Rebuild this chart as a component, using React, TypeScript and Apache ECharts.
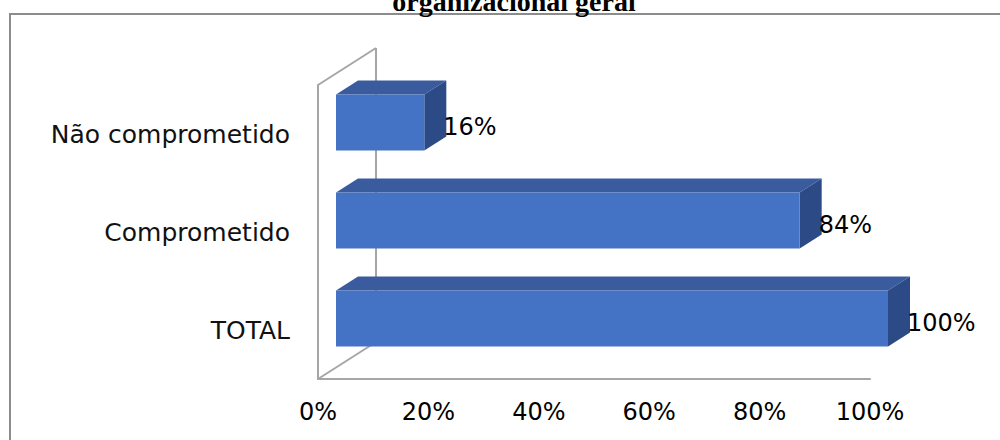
import React, { useEffect, useRef } from "react";
import * as echarts from "echarts";

const categories = ["TOTAL", "Comprometido", "Não comprometido"];
const values = [100, 84, 16];
const xMin = 0;
const xMax = 100;
const xInterval = 20;
const titleText = "organizacional geral";

export default function App() {
  const ref = useRef<HTMLDivElement>(null);
  useEffect(() => {
    if (!ref.current) return;
    const chart = echarts.init(ref.current, null, { renderer: "svg" });
    const wallColor = "#a6a6a6";
    const depthX = 58;
    const depthY = -37;
    const option: any = {
      animation: false,
      backgroundColor: "#ffffff",
      grid: { left: 318, top: 85, width: 552, height: 294, containLabel: false },
      xAxis: {
        type: "value",
        min: xMin,
        max: xMax,
        interval: xInterval,
        axisLine: { show: true, lineStyle: { color: wallColor, width: 2 } },
        axisTick: { show: false },
        splitLine: { show: false },
        axisLabel: {
          formatter: "{value}%",
          margin: 21,
          fontSize: 24,
          fontFamily: "DejaVu Sans",
          color: "#000000",
        },
      },
      yAxis: {
        type: "category",
        data: categories,
        axisLine: { show: true, lineStyle: { color: wallColor, width: 2 } },
        axisTick: { show: false },
        splitLine: { show: false },
        axisLabel: {
          margin: 28,
          fontSize: 25,
          fontFamily: "DejaVu Sans",
          color: "#111111",
        },
      },
      graphic: [
        {
          type: "rect",
          shape: { x: 10, y: 14, width: 1100, height: 600 },
          style: { fill: "none", stroke: "#8c8c8c", lineWidth: 2 },
          z: -10,
        },
        {
          type: "text",
          x: 514,
          y: 1,
          style: {
            text: titleText,
            font: "bold 28px 'Liberation Serif'",
            fill: "#000000",
            align: "center",
            verticalAlign: "middle",
          },
        },
      ],
      series: [
        {
          type: "custom",
          z: 1,
          silent: true,
          data: [[0, 0]],
          renderItem: (params: any, api: any) => {
            const cs = params.coordSys;
            const x0 = cs.x;
            const yTop = cs.y;
            const yBot = cs.y + cs.height;
            const ls = { stroke: wallColor, lineWidth: 2 };
            return {
              type: "group",
              children: [
                { type: "line", shape: { x1: x0, y1: yTop, x2: x0 + depthX, y2: yTop + depthY }, style: ls },
                { type: "line", shape: { x1: x0 + depthX, y1: yTop + depthY, x2: x0 + depthX, y2: yBot + depthY }, style: ls },
                { type: "line", shape: { x1: x0, y1: yBot, x2: x0 + depthX, y2: yBot + depthY }, style: ls },
              ],
            };
          },
        },
        {
          type: "custom",
          z: 2,
          silent: true,
          encode: { x: 0, y: 1 },
          data: values.map((v, i) => [v, i]),
          renderItem: (params: any, api: any) => {
            const v = api.value(0);
            const cat = api.value(1);
            const p0 = api.coord([0, cat]);
            const p1 = api.coord([v, cat]);
            const band = api.size([0, 1])[1];
            const h = band * 0.57;
            const ox = 18;
            const oy = -11.5;
            const dx = 22;
            const dy = -14;
            const xa = p0[0] + ox;
            const xb = p1[0] + ox;
            const yc = p0[1] + oy;
            const yt = yc - h / 2;
            const yb = yc + h / 2;
            return {
              type: "group",
              children: [
                {
                  type: "polygon",
                  shape: { points: [[xa, yt], [xb, yt], [xb + dx, yt + dy], [xa + dx, yt + dy]] },
                  style: { fill: "#3a5c9e" },
                },
                {
                  type: "polygon",
                  shape: { points: [[xb, yt], [xb + dx, yt + dy], [xb + dx, yb + dy], [xb, yb]] },
                  style: { fill: "#2c4a86" },
                },
                {
                  type: "rect",
                  shape: { x: xa, y: yt, width: xb - xa, height: h },
                  style: { fill: "#4472c4" },
                },
                {
                  type: "text",
                  x: xb + 19,
                  y: yc + 4,
                  style: {
                    text: v + "%",
                    font: "24px 'DejaVu Sans'",
                    fill: "#000000",
                    align: "left",
                    verticalAlign: "middle",
                  },
                },
              ],
            };
          },
        },
      ],
    };
    chart.setOption(option);
    return () => chart.dispose();
  }, []);
  return (
    <div
      ref={ref}
      style={{ position: "fixed", left: 0, top: 0, width: 1000, height: 440 }}
    />
  );
}
